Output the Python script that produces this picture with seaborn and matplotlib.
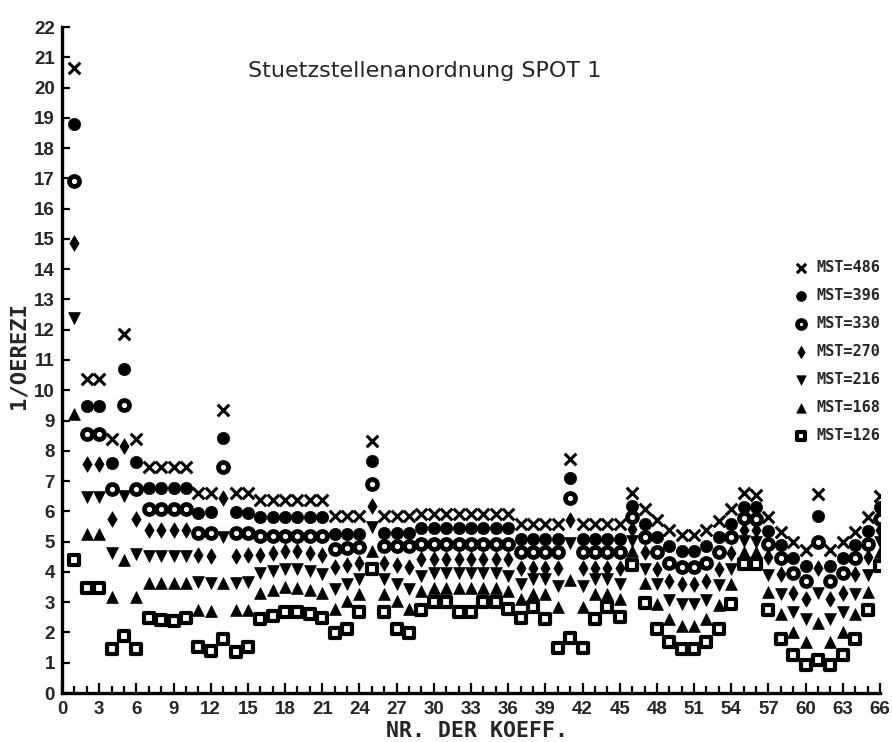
import matplotlib
matplotlib.use("Agg")
import matplotlib.pyplot as plt
import seaborn as sns
import pandas as pd

# ---------------- data ----------------
coef = list(range(1, 67))
mst_labels = ["MST=486", "MST=396", "MST=330", "MST=270", "MST=216", "MST=168", "MST=126"]

mst486 = [20.65, 10.38, 10.38, 8.40, 11.85, 8.38, 7.46, 7.46, 7.46, 7.46,
          6.60, 6.60, 9.36, 6.60, 6.60,
          6.36, 6.36, 6.36, 6.36, 6.36, 6.36,
          5.86, 5.86, 5.86, 8.34, 5.86, 5.86, 5.86,
          5.92, 5.92, 5.92, 5.92, 5.92, 5.92, 5.92, 5.92,
          5.58, 5.58, 5.58, 5.58, 7.74, 5.58, 5.58, 5.58, 5.58,
          6.60, 6.08, 5.70, 5.38, 5.23, 5.23, 5.40, 5.67, 6.08, 6.60, 6.55,
          5.81, 5.31, 5.00, 4.72, 6.58, 4.72, 5.00, 5.31, 5.81, 6.50]
mst396 = [18.80, 9.48, 9.48, 7.60, 10.70, 7.62, 6.78, 6.78, 6.78, 6.78,
          5.95, 5.97, 8.43, 5.97, 5.95,
          5.81, 5.81, 5.81, 5.81, 5.81, 5.81,
          5.25, 5.25, 5.25, 7.66, 5.28, 5.28, 5.28,
          5.45, 5.45, 5.45, 5.45, 5.45, 5.45, 5.45, 5.45,
          5.10, 5.10, 5.10, 5.10, 7.11, 5.10, 5.10, 5.10, 5.10,
          6.19, 5.58, 5.14, 4.87, 4.70, 4.70, 4.87, 5.14, 5.58, 6.16, 6.14,
          5.35, 4.90, 4.45, 4.20, 5.85, 4.20, 4.45, 4.90, 5.35, 6.14]
mst330 = [16.90, 8.55, 8.55, 6.74, 9.50, 6.74, 6.08, 6.08, 6.08, 6.08,
          5.28, 5.30, 7.48, 5.30, 5.28,
          5.20, 5.20, 5.20, 5.20, 5.20, 5.20,
          4.76, 4.78, 4.82, 6.91, 4.84, 4.84, 4.84,
          4.93, 4.93, 4.93, 4.93, 4.93, 4.93, 4.93, 4.93,
          4.65, 4.65, 4.65, 4.65, 6.43, 4.65, 4.65, 4.65, 4.65,
          5.81, 5.14, 4.65, 4.28, 4.17, 4.17, 4.28, 4.65, 5.14, 5.78, 5.75,
          4.92, 4.45, 3.95, 3.70, 5.00, 3.70, 3.95, 4.45, 4.92, 5.75]
mst270 = [14.87, 7.57, 7.57, 5.75, 8.15, 5.75, 5.39, 5.39, 5.39, 5.39,
          4.55, 4.54, 6.45, 4.54, 4.55,
          4.57, 4.63, 4.68, 4.68, 4.63, 4.57,
          4.15, 4.22, 4.30, 6.19, 4.30, 4.22, 4.15,
          4.43, 4.43, 4.43, 4.43, 4.43, 4.43, 4.43, 4.43,
          4.14, 4.14, 4.14, 4.14, 5.72, 4.14, 4.14, 4.14, 4.14,
          5.42, 4.65, 4.09, 3.71, 3.60, 3.60, 3.71, 4.09, 4.62, 5.39, 5.38,
          4.50, 3.93, 3.30, 3.10, 4.12, 3.10, 3.30, 3.93, 4.50, 5.38]
mst216 = [12.38, 6.47, 6.47, 4.61, 6.52, 4.59, 4.54, 4.54, 4.54, 4.54,
          3.68, 3.65, 5.14, 3.65, 3.68,
          3.95, 4.04, 4.10, 4.10, 4.04, 3.93,
          3.43, 3.60, 3.76, 5.47, 3.76, 3.60, 3.43,
          3.85, 3.95, 3.95, 3.95, 3.95, 3.95, 3.95, 3.87,
          3.60, 3.76, 3.76, 3.54, 4.95, 3.54, 3.76, 3.76, 3.60,
          5.02, 4.09, 3.60, 3.07, 2.94, 2.94, 3.07, 3.57, 4.09, 5.03, 5.00,
          3.90, 3.27, 2.66, 2.45, 3.29, 2.45, 2.66, 3.27, 3.90, 5.00]
mst168 = [9.20, 5.25, 5.25, 3.18, 4.39, 3.18, 3.65, 3.65, 3.65, 3.65,
          2.75, 2.72, 3.65, 2.74, 2.75,
          3.29, 3.40, 3.49, 3.47, 3.40, 3.29,
          2.77, 3.05, 3.27, 4.70, 3.27, 3.05, 2.77,
          3.38, 3.48, 3.48, 3.48, 3.48, 3.48, 3.48, 3.38,
          3.10, 3.27, 3.27, 2.85, 3.74, 2.85, 3.27, 3.27, 3.10,
          4.68, 3.62, 2.94, 2.44, 2.22, 2.22, 2.44, 2.90, 3.60, 4.65, 4.65,
          3.32, 2.60, 2.02, 1.70, 2.30, 1.70, 2.02, 2.60, 3.32, 4.65]
mst126 = [4.39, 3.47, 3.47, 1.45, 1.89, 1.45, 2.47, 2.41, 2.38, 2.47,
          1.52, 1.39, 1.78, 1.36, 1.52,
          2.44, 2.55, 2.66, 2.69, 2.60, 2.47,
          1.97, 2.12, 2.66, 4.09, 2.66, 2.12, 1.97,
          2.74, 2.99, 2.99, 2.69, 2.69, 2.99, 2.99, 2.77,
          2.49, 2.85, 2.44, 1.50, 1.81, 1.50, 2.44, 2.85, 2.52,
          4.24, 2.96, 2.11, 1.67, 1.45, 1.45, 1.67, 2.11, 2.94, 4.26, 4.26,
          2.75, 1.80, 1.25, 0.92, 1.08, 0.92, 1.25, 1.80, 2.75, 4.20]

x_ticks = list(range(0, 67, 3))
y_ticks = list(range(0, 23))

series = [mst486, mst396, mst330, mst270, mst216, mst168, mst126]
df = pd.concat(
    [pd.DataFrame({"coef": coef, "val": vals, "mst": lab}) for vals, lab in zip(series, mst_labels)],
    ignore_index=True)

# ---------------- styling ----------------
sns.set_style("ticks")
plt.rcParams["font.family"] = ["Liberation Sans", "DejaVu Sans"]

styles = {
    "MST=486": dict(marker="x", s=70, color="black", linewidth=2.2),
    "MST=396": dict(marker="o", s=78, color="black", edgecolor="black", linewidth=0.5),
    "MST=330": dict(marker="o", s=52, facecolor="white", edgecolor="black", linewidth=3.4),
    "MST=270": dict(marker="d", s=62, color="black", edgecolor="black", linewidth=0.5),
    "MST=216": dict(marker="v", s=72, color="black", edgecolor="black", linewidth=0.5),
    "MST=168": dict(marker="^", s=72, color="black", edgecolor="black", linewidth=0.5),
    "MST=126": dict(marker="s", s=52, facecolor="white", edgecolor="black", linewidth=3.0),
}

fig = plt.figure(figsize=(8.92, 7.42), dpi=100)
ax = fig.add_axes([62 / 892, 49 / 742, (880 - 62) / 892, (693 - 27) / 742])

for lab in mst_labels:
    sub = df[df["mst"] == lab]
    sns.scatterplot(data=sub, x="coef", y="val", ax=ax, label=lab, zorder=3, **styles[lab])

ax.set_xlim(0, 66)
ax.set_ylim(0, 22)
ax.set_xticks(x_ticks)
ax.set_xticks(coef, minor=True)
ax.set_yticks(y_ticks)
ax.set_xticklabels([str(t) for t in x_ticks])
ax.set_yticklabels([str(t) for t in y_ticks])
ax.tick_params(axis="both", which="both", direction="in", width=1.6, color="black")
ax.tick_params(axis="x", which="major", length=7, pad=6)
ax.tick_params(axis="x", which="minor", length=5)
ax.tick_params(axis="y", which="major", length=6, pad=5)
for lbl in ax.get_xticklabels() + ax.get_yticklabels():
    lbl.set_fontsize(13.5)
    lbl.set_fontweight("bold")
sns.despine(ax=ax)
for sp in ("left", "bottom"):
    ax.spines[sp].set_linewidth(2.4)
    ax.spines[sp].set_color("black")
ax.set_xlabel("")
ax.set_ylabel("")

fig.text(425 / 892, 1 - 71 / 742, "Stuetzstellenanordnung SPOT 1", ha="center", va="center",
         fontsize=16, family=["DejaVu Sans"])
fig.text(19 / 892, 1 - 356 / 742, "1/OEREZI", rotation=90, ha="center", va="center",
         fontsize=16, fontweight="bold", family=["DejaVu Sans Mono", "DejaVu Sans"])
fig.text(477 / 892, 1 - 731 / 742, "NR. DER KOEFF.", ha="center", va="center",
         fontsize=15.5, fontweight="bold", family=["DejaVu Sans Mono", "DejaVu Sans"])

handles, labels = ax.get_legend_handles_labels()
leg = ax.legend(handles, labels, loc="upper left", bbox_to_anchor=(786 / 892, 1 - 252 / 742),
                bbox_transform=fig.transFigure, frameon=False, borderpad=0, handletextpad=0.5,
                labelspacing=0.85, handlelength=1.0, markerscale=0.8,
                prop={"family": "DejaVu Sans Mono", "weight": "bold", "size": 11})

fig.savefig("out.png", dpi=100)
